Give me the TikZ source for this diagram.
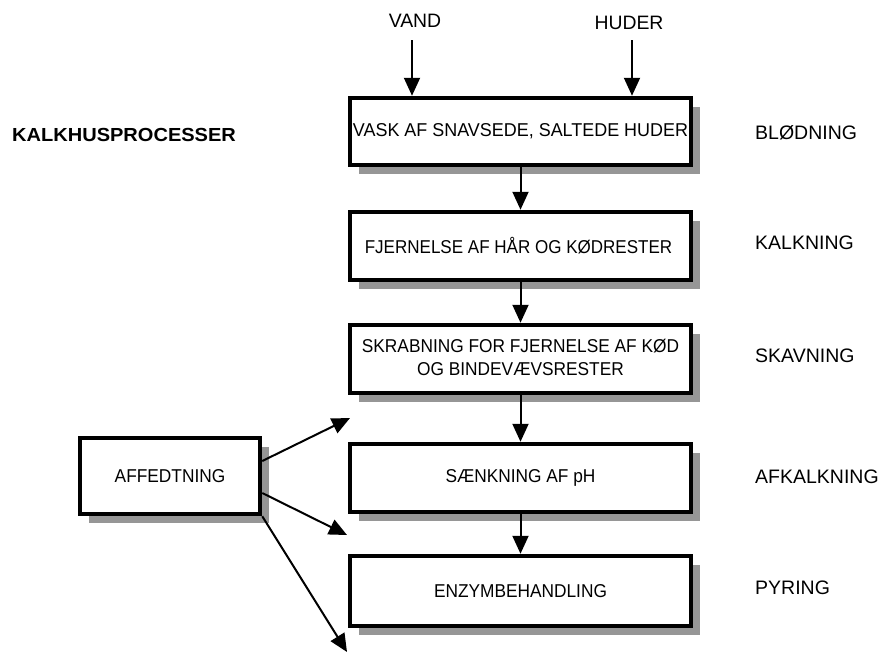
\documentclass[tikz,border=0pt]{standalone}
\usepackage{fontspec}
\setmainfont{Liberation Sans}
\newfontfamily\boxfont[FakeStretch=0.93]{Liberation Sans}
\newfontfamily\boxfontwide[FakeStretch=0.965]{Liberation Sans}
\newfontfamily\boxfontnarrow[FakeStretch=0.915]{Liberation Sans}
\newfontfamily\headfont[FakeStretch=1.06]{Liberation Sans}
\usetikzlibrary{arrows.meta,shadows}
\definecolor{shadowgray}{HTML}{969696}
\begin{document}
\begin{tikzpicture}[x=1pt,y=-1pt,
  procbox/.style={draw=black, line width=4.5pt, fill=white, inner sep=0pt,
    minimum width=341pt, minimum height=68pt, align=center,
    font=\boxfont\fontsize{18.6}{23}\selectfont,
    drop shadow={shadow xshift=9pt, shadow yshift=-9pt, fill=shadowgray, opacity=1}},
  flow/.style={line width=2pt, -{Triangle[length=18pt,width=16pt]}},
  stage/.style={anchor=base west, inner sep=0pt, font=\fontsize{19.5}{23}\selectfont},
  feed/.style={anchor=base, inner sep=0pt, font=\fontsize{19.4}{23}\selectfont}]
\useasboundingbox (0,0) rectangle (883,654);

% title
\node[anchor=base west, inner sep=0pt, font=\headfont\bfseries\fontsize{18.9}{23}\selectfont]
  (title) at (12,141) {KALKHUSPROCESSER};

% process chain
\node[procbox, minimum height=67pt, font=\boxfontwide\fontsize{18.6}{23}\selectfont]
  (b1) at (520.5,131.5) {VASK AF SNAVSEDE, SALTEDE HUDER};
\node[procbox, font=\boxfontnarrow\fontsize{18.6}{23}\selectfont]
  (b2) at (520.5,246) {\hspace*{-4pt}FJERNELSE AF HÅR OG KØDRESTER};
\node[procbox] (b3) at (520.5,359) {\raisebox{6pt}{\begin{tabular}{@{}c@{}}SKRABNING FOR FJERNELSE AF KØD\\ OG BINDEVÆVSRESTER\end{tabular}}};
\node[procbox] (b4) at (520.5,478) {SÆNKNING AF pH};
\node[procbox, minimum height=70pt] (b5) at (520.5,591) {ENZYMBEHANDLING};

% side process
\node[procbox, minimum width=180pt, minimum height=76pt] (aff) at (170,476) {AFFEDTNING};

% inputs
\node[feed] (vand) at (415,27) {VAND};
\node[feed] (huder) at (629,29) {HUDER};
\coordinate (v0) at (412,40);
\coordinate (h0) at (632,40);
\draw[flow] (v0) -- (v0 |- b1.north);
\draw[flow] (h0) -- (h0 |- b1.north);

% chain arrows
\draw[flow] (b1.south) -- (b2.north);
\draw[flow] (b2.south) -- (b3.north);
\draw[flow] (b3.south) -- (b4.north);
\draw[flow] (b4.south) -- (b5.north);

% arrows out of the degreasing step
\coordinate (t1) at (350,418);
\coordinate (t2) at (347,535);
\coordinate (t3) at (347,652);
\draw[flow] ([yshift=15pt]aff.east) -- (t1);
\draw[flow] ([yshift=-17pt]aff.east) -- (t2);
\draw[flow] (aff.south east) -- (t3);

% stage names
\node[stage] (s1) at (755,139) {BLØDNING};
\node[stage] (s2) at (755,249) {KALKNING};
\node[stage] (s3) at (755,362) {SKAVNING};
\node[stage] (s4) at (755,483) {AFKALKNING};
\node[stage] (s5) at (755,594) {PYRING};
\end{tikzpicture}
\end{document}
